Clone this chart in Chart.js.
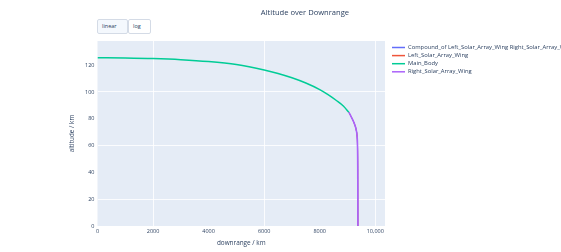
<!DOCTYPE html>
<html>
<head>
<meta charset="utf-8">
<script src="https://cdn.jsdelivr.net/npm/chart.js@4/dist/chart.umd.min.js"></script>
<style>
  body { margin: 0; background: #fff; }
  #wrap { position: relative; width: 561px; height: 252px; overflow: hidden; }
  .btn { position: absolute; top: 19px; height: 15px; box-sizing: border-box;
         border: 1px solid #d4dbe6; border-radius: 2px; font: 5.5px "Open Sans", sans-serif;
         color: #2a3f5f; line-height: 13px; padding-left: 4px; }
</style>
</head>
<body>
<div id="wrap">
  <canvas id="chart1" width="561" height="252"></canvas>
  <div class="btn" style="left:97px;width:31px;background:#f4f8fd;">linear</div>
  <div class="btn" style="left:128px;width:23px;background:#fff;">log</div>
</div>
<script>
"use strict";

// series labels (legend order)
var seriesNames = ['Compound_of Left_Solar_Array_Wing Right_Solar_Array_Wing Main_Body',
  'Left_Solar_Array_Wing', 'Main_Body', 'Right_Solar_Array_Wing'];
var seriesColors = ['#636efa', '#EF553B', '#00cc96', '#ab63fa'];
var seriesWidths = [1, 1, 1.5, 1.6];

// main body, before separation
var mainDown = [0, 1000, 2000, 3000, 4000, 5000, 6000, 6500, 7000, 7500, 8000, 8300, 8600, 8850, 9050];
var mainAlt = [125.5, 125.3, 124.9, 124.1, 122.7, 120.4, 116.4, 113.8, 110.55, 106.65, 101.75, 98.0, 93.6, 89.5, 84.8];

// wings / compound, after separation
var wingDown = [9050, 9130, 9210, 9270, 9315, 9345, 9360, 9368, 9372, 9374];
var wingAlt = [84.8, 81.6, 78.2, 75, 71.5, 67, 60, 45, 20, 0];

var xTicks = [0, 2000, 4000, 6000, 8000, 10000];
var yTicks = [0, 20, 40, 60, 80, 100, 120];
var xGridShown = [2000, 6000, 10000];
var yGridShown = [20, 60, 100];

function pts(xs, ys) {
  return xs.map(function(v, i) { return { x: v, y: ys[i] }; });
}

var seriesData = [pts(wingDown, wingAlt), pts(wingDown, wingAlt), pts(mainDown, mainAlt), pts(wingDown, wingAlt)];

var font = '"Open Sans", sans-serif';
var ink = '#2a3f5f';

var decor = {
  id: 'decor',
  beforeDraw: function(chart) {
    var c = chart.ctx, a = chart.chartArea;
    c.save();
    c.fillStyle = '#E5ECF6';
    c.fillRect(a.left, a.top, a.right - a.left, a.bottom - a.top);
    c.restore();
  },
  afterDraw: function(chart) {
    var c = chart.ctx, a = chart.chartArea;
    c.save();
    c.fillStyle = ink;
    c.textBaseline = 'middle';
    c.textAlign = 'center';
    c.font = '7.6px ' + font;
    c.fillText('Altitude over Downrange', 305, 13);
    c.font = '6.4px ' + font;
    c.fillText('downrange / km', (a.left + a.right) / 2, 243);
    c.save();
    c.translate(72, (a.top + a.bottom) / 2);
    c.rotate(-Math.PI / 2);
    c.fillText('altitude / km', 0, 0);
    c.restore();
    // legend
    c.textAlign = 'left';
    c.font = '5.85px ' + font;
    chart.data.datasets.forEach(function(ds, i) {
      var y = 47.5 + i * 8.1;
      c.strokeStyle = ds.borderColor;
      c.lineWidth = 1.5;
      c.beginPath();
      c.moveTo(392, y);
      c.lineTo(405, y);
      c.stroke();
      c.fillStyle = ink;
      c.fillText(ds.label, 408, y);
    });
    c.restore();
  }
};

var ctx = document.getElementById('chart1').getContext('2d');
var myChart = new Chart(ctx, {
  type: 'line',
  data: {
    datasets: seriesNames.map(function(n, i) {
      return {
        label: n,
        data: seriesData[i],
        order: seriesNames.length - i, // last trace on top, like plotly
        borderColor: seriesColors[i],
        backgroundColor: seriesColors[i],
        borderWidth: seriesWidths[i],
        pointRadius: 0,
        cubicInterpolationMode: 'monotone',
        fill: false
      };
    })
  },
  options: {
    responsive: false,
    animation: false,
    layout: { padding: { top: 41, right: 176, left: 0, bottom: 0 } },
    plugins: {
      legend: { display: false },
      tooltip: { enabled: false }
    },
    scales: {
      x: {
        type: 'linear',
        min: 0,
        max: 10350,
        afterFit: function(s) { s.height = 26; },
        afterBuildTicks: function(s) { s.ticks = xTicks.map(function(v) { return { value: v }; }); },
        ticks: {
          padding: 2,
          maxRotation: 0,
          color: ink,
          font: { family: font, size: 5.5 },
          callback: function(v) { return v >= 10000 ? v.toLocaleString('en-US') : String(v); }
        },
        border: { display: false },
        grid: {
          drawTicks: false,
          lineWidth: 1,
          color: function(c) { return xGridShown.indexOf(c.tick.value) >= 0 ? 'rgba(255,255,255,0.85)' : 'rgba(0,0,0,0)'; }
        }
      },
      y: {
        min: 0,
        max: 138,
        afterFit: function(s) { s.width = 97.5; },
        afterBuildTicks: function(s) { s.ticks = yTicks.map(function(v) { return { value: v }; }); },
        ticks: {
          padding: 3,
          color: ink,
          font: { family: font, size: 5.5 }
        },
        border: { display: false },
        grid: {
          drawTicks: false,
          lineWidth: 1,
          color: function(c) { return yGridShown.indexOf(c.tick.value) >= 0 ? 'rgba(255,255,255,0.85)' : 'rgba(0,0,0,0)'; }
        }
      }
    }
  },
  plugins: [decor]
});
</script>
</body>
</html>
